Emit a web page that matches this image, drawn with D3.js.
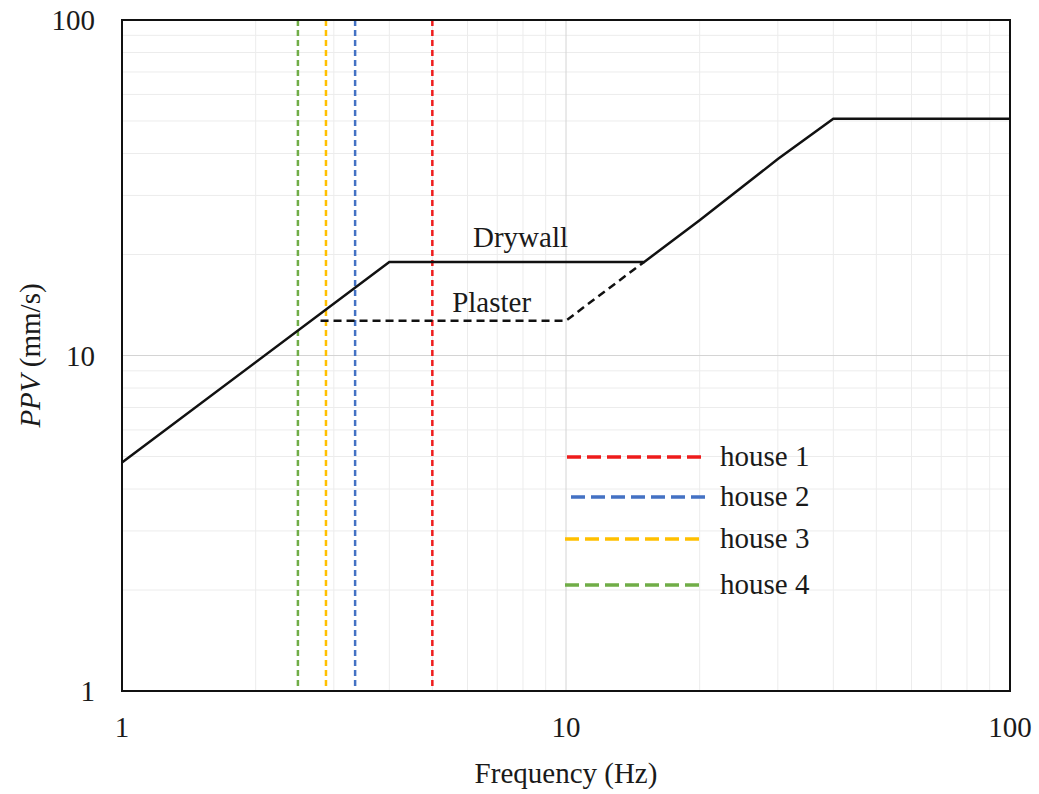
<!DOCTYPE html>
<html>
<head>
<meta charset="utf-8">
<script src="https://cdn.jsdelivr.net/npm/d3@7"></script>
<style>
  body { margin: 0; background: #fff; }
  text { font-family: "Liberation Serif", "Times New Roman", serif; fill: #1a1a1a; }
</style>
</head>
<body>
<svg id="chart" width="1039" height="794"></svg>
<script>
// Drywall limit curve (Hz, mm/s)
const drywallFreq = [1, 4, 15, 20, 30, 40, 100];
const drywallPPV = [4.8, 19, 19, 25.3, 38.5, 50.8, 50.8];

// Plaster limit curve (dashed)
const plasterFreq = [2.8, 10, 13, 15];
const plasterPPV = [12.7, 12.7, 16.5, 19];

// House natural frequencies
const houseNames = ['house 1', 'house 2', 'house 3', 'house 4'];
const houseFreq = [5, 3.35, 2.88, 2.49];
const houseColors = ['#ee1c1c', '#4472c4', '#ffc000', '#70ad47'];

const xTicks = [1, 10, 100];
const yTicks = [1, 10, 100];

const margin = { top: 20, right: 29, bottom: 103, left: 122 };
const width = 1039 - margin.left - margin.right;
const height = 794 - margin.top - margin.bottom;
const fontSize = '29px';

const svg = d3.select('#chart');
const g = svg.append('g').attr('transform', `translate(${margin.left},${margin.top})`);

const x = d3.scaleLog().domain([1, 100]).range([0, width]);
const y = d3.scaleLog().domain([1, 100]).range([height, 0]);

// minor + major gridlines
const minorVals = [];
[1, 10].forEach(dec => { for (let k = 2; k <= 9; k++) minorVals.push(dec * k); });

g.selectAll('.vminor').data(minorVals).enter().append('line')
  .attr('x1', d => x(d)).attr('x2', d => x(d)).attr('y1', 0).attr('y2', height)
  .attr('stroke', '#ececec').attr('stroke-width', 1);
g.selectAll('.hminor').data(minorVals).enter().append('line')
  .attr('y1', d => y(d)).attr('y2', d => y(d)).attr('x1', 0).attr('x2', width)
  .attr('stroke', '#ececec').attr('stroke-width', 1);
g.selectAll('.vmajor').data([10]).enter().append('line')
  .attr('x1', d => x(d)).attr('x2', d => x(d)).attr('y1', 0).attr('y2', height)
  .attr('stroke', '#d4d4d4').attr('stroke-width', 1);
g.selectAll('.hmajor').data([10]).enter().append('line')
  .attr('y1', d => y(d)).attr('y2', d => y(d)).attr('x1', 0).attr('x2', width)
  .attr('stroke', '#d4d4d4').attr('stroke-width', 1);

// house vertical dashed lines
g.selectAll('.house').data(houseFreq).enter().append('line')
  .attr('x1', d => x(d)).attr('x2', d => x(d)).attr('y1', 0).attr('y2', height)
  .attr('stroke', (d, i) => houseColors[i])
  .attr('stroke-width', 2.5)
  .attr('stroke-dasharray', '6,4');

const line = d3.line().x(d => x(d[0])).y(d => y(d[1]));

g.append('path')
  .datum(plasterFreq.map((f, i) => [f, plasterPPV[i]]))
  .attr('d', line).attr('fill', 'none')
  .attr('stroke', '#111').attr('stroke-width', 2.5)
  .attr('stroke-dasharray', '8,5');

g.append('path')
  .datum(drywallFreq.map((f, i) => [f, drywallPPV[i]]))
  .attr('d', line).attr('fill', 'none')
  .attr('stroke', '#111').attr('stroke-width', 2.5);

// curve labels
g.append('text').attr('x', x(7.9)).attr('y', y(19) - 15)
  .attr('text-anchor', 'middle').style('font-size', fontSize).text('Drywall');
g.append('text').attr('x', x(6.8)).attr('y', y(12.7) - 9)
  .attr('text-anchor', 'middle').style('font-size', fontSize).text('Plaster');

// plot border
g.append('rect').attr('width', width).attr('height', height)
  .attr('fill', 'none').attr('stroke', '#111').attr('stroke-width', 2);

// tick labels
g.selectAll('.xt').data(xTicks).enter().append('text')
  .attr('x', d => x(d)).attr('y', height + 46)
  .attr('text-anchor', 'middle').style('font-size', fontSize)
  .text(d => d);
g.selectAll('.yt').data(yTicks).enter().append('text')
  .attr('x', -27).attr('y', d => y(d)).attr('dy', '0.35em')
  .attr('text-anchor', 'end').style('font-size', fontSize)
  .text(d => d);

// axis titles
g.append('text').attr('x', x(10)).attr('y', height + 92)
  .attr('text-anchor', 'middle').style('font-size', fontSize)
  .text('Frequency (Hz)');

const yTitle = svg.append('text')
  .attr('transform', `translate(40,${margin.top + y(10)}) rotate(-90)`)
  .attr('text-anchor', 'middle').style('font-size', fontSize);
yTitle.append('tspan').style('font-style', 'italic').text('PPV');
yTitle.append('tspan').text(' (mm/s)');

// legend
const legendRows = [437, 477, 519, 565];
const legendX = [445, 449, 443, 443];
const legend = g.append('g').attr('class', 'legend');
const items = legend.selectAll('.legend-item')
  .data(houseNames).enter().append('g')
  .attr('transform', (d, i) => `translate(${legendX[i]},${legendRows[i]})`);
items.append('line')
  .attr('x1', 0).attr('x2', 136).attr('y1', 0).attr('y2', 0)
  .attr('stroke', (d, i) => houseColors[i])
  .attr('stroke-width', 3.5)
  .attr('stroke-dasharray', '14,6');
items.append('text')
  .attr('x', (d, i) => 598 - legendX[i]).attr('y', 0).attr('dy', '0.3em')
  .style('font-size', fontSize)
  .text(d => d);
</script>
</body>
</html>
